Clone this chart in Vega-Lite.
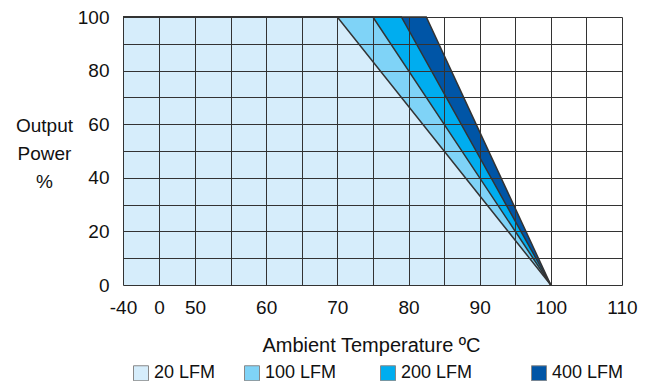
{
  "$schema": "https://vega.github.io/schema/vega-lite/v6.json",
  "width": 499,
  "height": 268,
  "autosize": "none",
  "padding": {"left": 123, "top": 17, "right": 34, "bottom": 96},
  "background": "white",
  "config": {
    "view": {"stroke": null},
    "font": "Liberation Sans",
    "axis": {
      "labelFont": "Liberation Sans",
      "titleFont": "Liberation Sans",
      "labelFontSize": 19,
      "titleFontSize": 19,
      "labelColor": "#111",
      "titleColor": "#111",
      "titleFontWeight": "normal",
      "gridColor": "#333",
      "gridOpacity": 1,
      "gridWidth": 1,
      "ticks": false,
      "domain": false
    },
    "legend": {
      "labelFont": "Liberation Sans",
      "labelFontSize": 18,
      "labelColor": "#111"
    }
  },
  "data": {
    "values": [
      {"series": "20 LFM", "temp": -40, "power": 100},
      {"series": "20 LFM", "temp": 70, "power": 100},
      {"series": "20 LFM", "temp": 100, "power": 0},
      {"series": "100 LFM", "temp": -40, "power": 100},
      {"series": "100 LFM", "temp": 75, "power": 100},
      {"series": "100 LFM", "temp": 100, "power": 0},
      {"series": "200 LFM", "temp": -40, "power": 100},
      {"series": "200 LFM", "temp": 79, "power": 100},
      {"series": "200 LFM", "temp": 100, "power": 0},
      {"series": "400 LFM", "temp": -40, "power": 100},
      {"series": "400 LFM", "temp": 82.5, "power": 100},
      {"series": "400 LFM", "temp": 100, "power": 0}
    ]
  },
  "encoding": {
    "x": {
      "field": "temp",
      "type": "quantitative",
      "scale": {"domain": [-40, 0, 50, 110], "range": [0, 36, 72, 499], "nice": false, "zero": false},
      "axis": {
        "zindex": 1,
        "values": [-40, 0, 50, 55, 60, 65, 70, 75, 80, 85, 90, 95, 100, 105, 110],
        "labelExpr": "datum.value % 10 == 5 ? '' : '' + datum.value",
        "labelPadding": 13,
        "labelFlush": false,
        "title": "Ambient Temperature ºC",
        "titleFontSize": 20,
        "titleX": 248,
        "titleY": 66,
        "titleBaseline": "alphabetic",
        "titleAnchor": null,
        "titleAlign": "center"
      }
    },
    "y": {
      "field": "power",
      "type": "quantitative",
      "stack": null,
      "scale": {"domain": [0, 100], "nice": false},
      "axis": {
        "zindex": 1,
        "values": [0, 10, 20, 30, 40, 50, 60, 70, 80, 90, 100],
        "labelExpr": "datum.value % 20 == 0 ? datum.label : ''",
        "labelPadding": 14,
        "title": ["Output", "Power", "%"],
        "titleAngle": 0,
        "titleX": -79,
        "titleY": 99,
        "titleAlign": "center",
        "titleBaseline": "top",
        "titleLineHeight": 28,
        "titleAnchor": null
      }
    }
  },
  "layer": [
    {
      "transform": [{"filter": "datum.series == '400 LFM'"}],
      "mark": {"type": "area", "opacity": 1},
      "encoding": {"color": {"field": "series", "type": "nominal"}}
    },
    {
      "transform": [{"filter": "datum.series == '200 LFM'"}],
      "mark": {"type": "area", "opacity": 1},
      "encoding": {"color": {"field": "series", "type": "nominal"}}
    },
    {
      "transform": [{"filter": "datum.series == '100 LFM'"}],
      "mark": {"type": "area", "opacity": 1},
      "encoding": {"color": {"field": "series", "type": "nominal"}}
    },
    {
      "transform": [{"filter": "datum.series == '20 LFM'"}],
      "mark": {"type": "area", "opacity": 1},
      "encoding": {
        "color": {
          "field": "series",
          "type": "nominal",
          "scale": {
            "domain": ["20 LFM", "100 LFM", "200 LFM", "400 LFM"],
            "range": ["#d6edfb", "#7fd3f7", "#00adef", "#0055a6"]
          },
          "legend": {
            "title": null,
            "orient": "none",
            "legendX": 9,
            "legendY": 347,
            "direction": "horizontal",
            "columns": 4,
            "columnPadding": 26,
            "symbolType": "square",
            "symbolSize": 225,
            "symbolStrokeColor": "#888",
            "symbolStrokeWidth": 1,
            "symbolOpacity": 1,
            "labelOffset": 4,
            "labelLimit": 200,
            "labelExpr": "datum.label == '100 LFM' ? datum.label + '\u00a0\u00a0\u00a0\u200b' : datum.label == '200 LFM' ? datum.label + '\u00a0\u00a0\u00a0\u00a0\u00a0\u00a0\u200b' : datum.label"
          }
        }
      }
    },
    {
      "mark": {"type": "line", "color": "#333", "strokeWidth": 1.5},
      "encoding": {"detail": {"field": "series", "type": "nominal"}}
    }
  ]
}
